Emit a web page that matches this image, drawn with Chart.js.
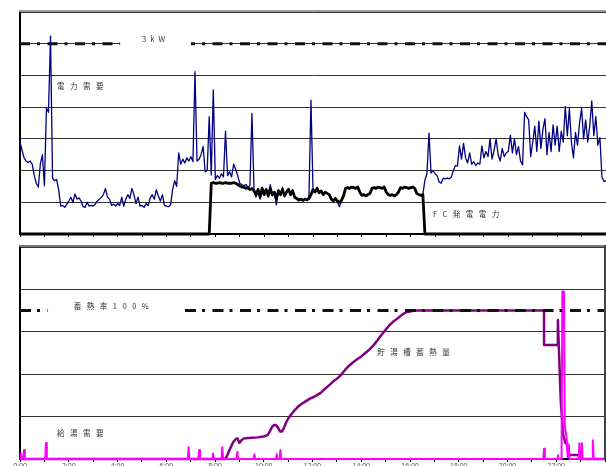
<!DOCTYPE html>
<html>
<head>
<meta charset="utf-8">
<script src="https://cdn.jsdelivr.net/npm/chart.js@4.4.1/dist/chart.umd.min.js"></script>
<style>
  html, body { margin: 0; padding: 0; background: #fff; overflow: hidden; }
  #wrap { position: relative; width: 606px; height: 466px; }
  canvas { position: absolute; left: 0; }
  #power { top: 0; }
  #heat { top: 240px; }
</style>
</head>
<body>
<div id="wrap">
  <canvas id="power" width="606" height="246"></canvas>
  <canvas id="heat" width="606" height="226"></canvas>
</div>
<script>
// 電力需要 [kW] : 5-minute readings, 0:00 .. 24:00
const demandKW = [
  1.45,1.32,1.20,1.15,1.13,1.15,1.10,0.92,0.80,0.74,1.10,1.25,
  0.76,1.98,1.92,3.12,0.88,0.84,0.86,0.70,0.44,0.45,0.42,0.47,
  0.52,0.58,0.50,0.63,0.55,0.57,0.52,0.43,0.42,0.50,0.44,0.45,
  0.44,0.47,0.52,0.55,0.58,0.62,0.72,0.58,0.55,0.45,0.47,0.44,
  0.48,0.45,0.58,0.44,0.55,0.62,0.56,0.72,0.62,0.48,0.58,0.44,
  0.45,0.42,0.48,0.45,0.57,0.62,0.55,0.70,0.60,0.52,0.62,0.45,
  0.44,0.43,0.46,0.70,0.84,0.75,1.28,1.10,1.18,1.12,1.20,1.15,
  1.22,1.14,2.56,1.15,1.18,1.25,1.38,0.98,1.00,1.85,0.93,2.27,
  0.86,0.92,0.88,0.95,0.90,1.62,0.92,0.98,0.90,1.10,1.02,0.92,
  0.80,0.78,0.76,0.78,0.74,0.76,1.90,0.70,0.58,0.72,0.55,0.74,
  0.62,0.72,0.58,0.78,0.60,0.66,0.46,0.70,0.62,0.74,0.60,0.68,
  0.72,0.62,0.70,0.58,0.55,0.52,0.54,0.52,0.55,0.53,0.56,2.11,
  0.70,0.66,0.72,0.65,0.68,0.62,0.66,0.64,0.62,0.55,0.52,0.56,
  0.50,0.43,0.52,0.60,0.72,0.73,0.72,0.74,0.73,0.72,0.74,0.66,
  0.61,0.62,0.60,0.62,0.64,0.72,0.73,0.72,0.74,0.73,0.72,0.74,
  0.66,0.62,0.61,0.62,0.60,0.62,0.66,0.73,0.72,0.74,0.73,0.72,
  0.73,0.74,0.72,0.64,0.62,0.61,0.62,0.85,0.95,1.59,0.96,1.00,
  0.95,0.92,0.82,0.80,0.88,0.87,0.88,0.87,0.90,1.00,1.08,1.07,
  1.39,1.18,1.43,1.20,1.12,1.28,1.10,1.14,1.08,1.12,1.10,1.39,
  1.20,1.30,1.22,1.50,1.18,1.32,1.50,1.25,1.15,1.35,1.22,1.28,
  1.30,1.56,1.28,1.50,1.25,1.38,1.15,1.09,1.92,1.85,1.80,1.22,
  1.45,1.70,1.30,1.78,1.35,1.65,1.82,1.25,1.60,1.30,1.72,1.40,
  1.70,1.30,1.62,1.45,2.01,1.55,1.98,1.45,1.20,1.60,1.40,1.75,
  1.98,1.50,1.80,1.45,1.70,2.10,1.55,1.85,1.40,1.52,0.90,0.83,
  0.84
];

// FC発電電力 [kW] : 5-minute readings while the unit runs (zero outside)
const fcStart = '7:45';
const fcKW = [
  0.00,0.80,0.81,0.80,0.80,0.81,0.80,0.80,0.81,0.80,0.80,0.80,0.81,0.80,0.78,
  0.76,0.74,0.74,0.72,0.73,0.70,0.72,0.68,0.62,0.70,0.58,0.72,
  0.62,0.70,0.60,0.72,0.62,0.66,0.55,0.68,0.62,0.70,0.60,0.66,
  0.70,0.62,0.68,0.58,0.56,0.54,0.55,0.53,0.55,0.54,0.56,0.62,
  0.70,0.66,0.72,0.65,0.68,0.62,0.66,0.64,0.62,0.55,0.52,0.56,
  0.52,0.50,0.53,0.60,0.72,0.73,0.72,0.74,0.73,0.72,0.74,0.66,
  0.61,0.62,0.60,0.62,0.64,0.72,0.73,0.72,0.74,0.73,0.72,0.74,
  0.66,0.62,0.61,0.62,0.60,0.62,0.66,0.73,0.72,0.74,0.73,0.72,
  0.73,0.74,0.72,0.64,0.62,0.61,0.62,
  0.00
];
const ratedKW = 3;

// 貯湯槽蓄熱量
const storeTimes = [
  '0:00','8:25','8:30','8:35','8:40','8:45','8:50','8:55','9:00','9:05','9:10','9:15','9:30','9:45',
  '10:00','10:10','10:15','10:20','10:25','10:30','10:35','10:40','10:45','10:50','10:55',
  '11:00','11:05','11:10','11:15','11:20','11:25','11:30','11:35','11:40','11:45','11:50','11:55',
  '12:00','12:10','12:20','12:30','12:40','12:50','13:00','13:10','13:20','13:30','13:40','13:50',
  '14:00','14:10','14:20','14:30','14:40','14:50','15:00','15:10','15:20','15:30','15:40','15:50',
  '16:00','16:10','21:30','21:30','22:02','22:04','22:11','22:17','22:23','22:27','22:31','23:00','23:03','24:00'
];
const storeHeat = [
  0,0,0.8,2.0,3.0,4.0,4.6,4.9,3.8,4.4,4.8,4.9,5.0,5.1,
  5.3,5.7,6.5,7.5,8.0,8.0,7.4,6.5,6.5,7.4,8.6,
  9.5,10.2,10.8,11.4,11.9,12.4,12.8,13.1,13.4,13.7,14.0,14.3,
  14.5,15.0,15.6,16.5,17.3,18.2,18.9,19.8,21.0,22.0,22.8,23.5,
  24.2,25.0,25.8,26.8,28.0,29.3,30.5,31.6,32.5,33.2,34.0,34.6,
  34.8,35.0,35.0,26.9,26.9,32.8,13.9,5.7,3.7,3.6,1.0,0.9,0,0
];
const fullHeat = 35;

// 給湯需要
const hotTimes = [
  '0:00','0:02','0:04','0:08','0:10','0:12','1:02','1:04','1:06',
  '6:53','6:55','6:57','7:19','7:21','7:23','7:53','7:55','7:57',
  '8:16','8:18','8:20','8:53','8:55','8:57','9:35','9:37','9:39',
  '10:30','10:32','10:34','10:39','10:41','10:43',
  '21:28','21:30','21:32','22:02','22:04','22:06',
  '22:13','22:15','22:19','22:21','22:25','22:28','22:31','22:33',
  '22:55','22:57','22:59','23:01','23:03','23:05','23:28','23:30','23:32','24:00'
];
const hotHeat = [
  0,1.3,0,0,2.1,0,0,3.8,0,
  0,2.8,0,0,2.1,0,0,1.3,0,
  0,2.8,0,0,1.7,0,0,1.1,0,
  0,1.1,0,0,2.1,0,
  0,2.4,0,0,0.9,0,
  0,39.5,39.5,8.0,5.3,0.5,3.3,0,
  0,3.7,0,0,3.7,0,0,4.4,0,0
];

const hourLabels = ['0:00','2:00','4:00','6:00','8:00','10:00','12:00','14:00','16:00','18:00','20:00','22:00'];

// ---- helpers ----
const toHours = s => { const [h, m] = s.split(':').map(Number); return h + m / 60; };
const STEP = 5 / 60;
const stepSeries = (start, vals) => vals.map((v, i) => ({ x: start + i * STEP, y: v }));
const pairSeries = (times, vals) => times.map((t, i) => ({ x: toHours(t), y: vals[i] }));

const demandPts = stepSeries(0, demandKW);
const fcPts = [{ x: 0, y: 0 }, ...stepSeries(toHours(fcStart), fcKW), { x: 24, y: 0 }];
const storePts = pairSeries(storeTimes, storeHeat);
const hotPts = pairSeries(hotTimes, hotHeat);

// in-plot captions, drawn with wide character pitch; optional white box masks lines behind
const notes = {
  id: 'notes',
  afterDatasetsDraw(chart, args, opts) {
    const { ctx, scales: { x, y } } = chart;
    ctx.save();
    ctx.font = opts.font;
    ctx.textBaseline = 'middle';
    for (const n of opts.items) {
      const px = x.getPixelForValue(n.at[0]);
      const py = y.getPixelForValue(n.at[1]);
      if (n.box) {
        const x0 = x.getPixelForValue(n.box[0]);
        const x1 = x.getPixelForValue(n.box[1]);
        ctx.fillStyle = '#fff';
        ctx.fillRect(x0, py - 7, x1 - x0, 14);
      }
      ctx.fillStyle = opts.color;
      let cx = px;
      for (const ch of [...n.text]) {
        ctx.fillText(ch, cx, py);
        cx += ctx.measureText(ch).width + n.spacing;
      }
    }
    ctx.restore();
  }
};

// plot-area edges not covered by the axes
const frame = {
  id: 'frame',
  afterDraw(chart, args, opts) {
    const { ctx, chartArea: { left, top, right, bottom } } = chart;
    ctx.save();
    ctx.fillStyle = opts.topShade;
    ctx.fillRect(left - 1, top - 2, right - left + 1, 2);
    if (opts.right) {
      ctx.fillStyle = opts.right;
      ctx.fillRect(right - 1, top - 2, 2, bottom - top + 2);
    }
    ctx.restore();
  }
};

const common = {
  responsive: false,
  animation: false,
  devicePixelRatio: 1,
  elements: { point: { radius: 0 }, line: { tension: 0, borderJoinStyle: 'round' } },
};

new Chart(document.getElementById('power'), {
  type: 'line',
  data: {
    datasets: [
      { label: 'FC発電電力', data: fcPts, borderColor: '#000', borderWidth: 2.8, order: 0, clip: 6 },
      { label: '電力需要', data: demandPts, borderColor: '#000080', borderWidth: 1.3, order: 1 },
      { label: '3kW', data: [{ x: 0, y: ratedKW }, { x: 24, y: ratedKW }], borderColor: '#111',
        borderWidth: 3, borderDash: [10, 7, 3, 7.5], order: 2 }
    ]
  },
  options: {
    ...common,
    layout: { autoPadding: false, padding: { left: 20, top: 12, right: 0, bottom: 0 } },
    plugins: {
      legend: { display: false },
      tooltip: { enabled: false },
      frame: { topShade: '#9a9a9a' },
      notes: {
        font: '7.5px "Noto Sans CJK JP"', color: '#333',
        items: [
          { text: '3kW', at: [5.0, 3.07], spacing: 4, box: [4.1, 7.0] },
          { text: '電力需要', at: [1.52, 2.33], spacing: 5.5 },
          { text: 'FC発電電力', at: [16.91, 0.32], spacing: 5.5 }
        ]
      }
    },
    scales: {
      x: {
        type: 'linear', min: 0, max: 24,
        afterFit: s => { s.height = 12; },
        ticks: { display: false, stepSize: 1, autoSkip: false },
        grid: { drawOnChartArea: false, drawTicks: true, tickLength: 3, tickColor: '#000' },
        border: { display: true, color: '#000', width: 2 }
      },
      y: {
        min: 0, max: 3.5,
        afterFit: s => { s.width = 0; },
        ticks: { display: false, stepSize: 0.5 },
        grid: { color: '#333', lineWidth: 1, drawTicks: false },
        border: { display: true, color: '#000', width: 2 }
      }
    }
  },
  plugins: [frame, notes]
});

new Chart(document.getElementById('heat'), {
  type: 'line',
  data: {
    datasets: [
      { label: '蓄熱率100%', data: [{ x: 0, y: fullHeat }, { x: 24, y: fullHeat }], borderColor: '#111',
        borderWidth: 3, borderDash: [11, 6, 3, 7.5], order: 0 },
      { label: '給湯需要', data: hotPts, borderColor: '#ff00ff', borderWidth: 2, order: 1, clip: 6 },
      { label: '貯湯槽蓄熱量', data: storePts, borderColor: '#800080', borderWidth: 2.5, order: 2, clip: 6 }
    ]
  },
  options: {
    ...common,
    layout: { autoPadding: false, padding: { left: 20, top: 7, right: 1, bottom: 0 } },
    plugins: {
      legend: { display: false },
      tooltip: { enabled: false },
      frame: { topShade: '#777', right: '#444' },
      notes: {
        font: '7.5px "Noto Sans CJK JP"', color: '#333',
        items: [
          { text: '蓄熱率100%', at: [2.21, 36.1], spacing: 5.5, box: [1.15, 6.76] },
          { text: '貯湯槽蓄熱量', at: [14.66, 25.1], spacing: 5.5 },
          { text: '給湯需要', at: [1.52, 6.1], spacing: 5.5 }
        ]
      }
    },
    scales: {
      x: {
        type: 'linear', min: 0, max: 24,
        afterFit: s => { s.height = 7; },
        ticks: {
          stepSize: 1, autoSkip: false, maxRotation: 0, padding: 0,
          color: '#555', font: { family: '"Liberation Sans", Arial, sans-serif', size: 7 },
          callback: v => (v % 2 === 0 && hourLabels[v / 2]) ? hourLabels[v / 2] : ''
        },
        grid: { drawOnChartArea: false, drawTicks: true, tickLength: 3, tickColor: '#000' },
        border: { display: true, color: '#000', width: 2 }
      },
      y: {
        min: 0, max: 50,
        afterFit: s => { s.width = 0; },
        ticks: { display: false, stepSize: 10 },
        grid: { color: '#333', lineWidth: 1, drawTicks: false },
        border: { display: true, color: '#000', width: 2 }
      }
    }
  },
  plugins: [frame, notes]
});
</script>
</body>
</html>
